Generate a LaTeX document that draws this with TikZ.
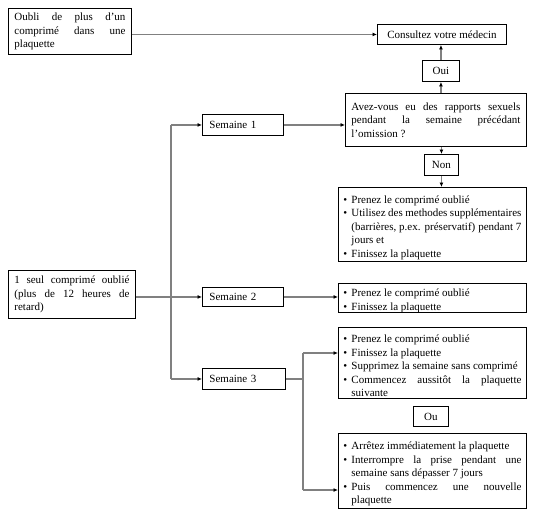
\documentclass[tikz,border=0pt]{standalone}
\usepackage{fontspec}
\setmainfont{Liberation Serif}
\usetikzlibrary{arrows.meta}
\newcommand\bul{\par\noindent\hangindent=8pt\hangafter=1\makebox[8pt][l]{\textbullet}}
\newcommand\nohyph{\hyphenpenalty=10000 \exhyphenpenalty=10000 \relax}
\tikzset{
  box/.style={draw=black, line width=0.9pt, inner ysep=0pt, anchor=north west,
    font=\fontsize{11}{13.5}\selectfont\nohyph},
  jbox/.style={box, align=justify, inner xsep=6pt},
  bbox/.style={box, align=justify, inner xsep=5pt},
  cbox/.style={box, align=center, inner xsep=0pt},
  lbox/.style={box, align=left, inner xsep=7pt},
  conn/.style={draw=black!50, line width=1.3pt, -{Latex[length=4.5pt,width=4pt,color=black]}},
  line/.style={draw=black!50, line width=1.3pt}
}
\begin{document}
\begin{tikzpicture}[x=1pt,y=-1pt]
\useasboundingbox (0,0) rectangle (541,515);
\node[jbox, minimum width=123pt, minimum height=46pt, text width=111pt] (A) at (8,8)
  {\sloppy Oubli de plus d'un comprimé dans une plaquette};
\node[cbox, minimum width=129pt, minimum height=20pt] (cons) at (377,24) {Consultez votre médecin};
\node[cbox, minimum width=37pt, minimum height=21pt] (oui) at (422,60) {Oui};
\node[jbox, minimum width=181pt, minimum height=53pt, text width=169pt] (q) at (345,93)
  {\sloppy Avez-vous eu des rapports sexuels pendant la semaine précédant l'omission ?};
\node[lbox, minimum width=81pt, minimum height=21pt, text width=67pt] (s1) at (202,114) {Semaine 1};
\node[cbox, minimum width=34pt, minimum height=21pt] (non) at (424,154) {Non};
\node[bbox, minimum width=188pt, minimum height=74pt, text width=178pt] (b1) at (338,187)
  {\sloppy\bul Prenez le comprimé oublié
   \bul Utilisez des methodes supplémentaires (barrières, p.ex. préservatif) pendant 7 jours et
   \bul Finissez la plaquette\par};
\node[jbox, minimum width=127pt, minimum height=48pt, text width=115pt] (one) at (8,270)
  {\sloppy 1 seul comprimé oublié (plus de 12 heures de retard)};
\node[lbox, minimum width=81pt, minimum height=19pt, text width=67pt] (s2) at (202,287) {Semaine 2};
\node[bbox, minimum width=188pt, minimum height=28pt, text width=178pt] (b2) at (338,283)
  {\bul Prenez le comprimé oublié
   \bul Finissez la plaquette\par};
\node[bbox, minimum width=188pt, minimum height=71pt, text width=178pt] (b3) at (338,327)
  {\sloppy\bul Prenez le comprimé oublié
   \bul Finissez la plaquette
   \bul Supprimez la semaine sans comprimé
   \bul Commencez aussitôt la plaquette suivante\par};
\node[lbox, minimum width=83pt, minimum height=21pt, text width=69pt] (s3) at (202,368) {Semaine 3};
\node[cbox, minimum width=35pt, minimum height=20pt] (ou) at (413,406) {Ou};
\node[bbox, minimum width=188pt, minimum height=75pt, text width=178pt] (b4) at (338,433)
  {\sloppy\bul Arrêtez immédiatement la plaquette
   \bul Interrompre la prise pendant une semaine sans dépasser 7 jours
   \bul Puis commencez une nouvelle plaquette\par};
% trunk coordinates
\coordinate (t1) at (171,0 |- s1.west);
\coordinate (t3) at (171,0 |- s3.west);
\coordinate (j0) at (303,0 |- s3.east);
\coordinate (j1) at (303,353);
\coordinate (j2) at (303,490);
% connectors
\draw[conn] (cons.west -| A.east) -- (cons.west);
\draw[conn] (q.north -| oui) -- (oui.south);
\draw[conn] (oui.north) -- (oui.north |- cons.south);
\draw[conn] (s1.east) -- (s1.east -| q.west);
\draw[conn] (q.south -| non) -- (non.north);
\draw[conn] (non.south) -- (non.south |- b1.north);
\draw[line] (t1) -- (t3);
\draw[conn] (t1) -- (s1.west);
\draw[conn] (t3) -- (s3.west);
\draw[conn] (s2.west -| one.east) -- (s2.west);
\draw[conn] (s2.east) -- (s2.east -| b2.west);
\draw[line] (s3.east) -- (j0);
\draw[line] (j1) -- (j2);
\draw[conn] (j1) -- (j1 -| b3.west);
\draw[conn] (j2) -- (j2 -| b4.west);
\end{tikzpicture}
\end{document}
